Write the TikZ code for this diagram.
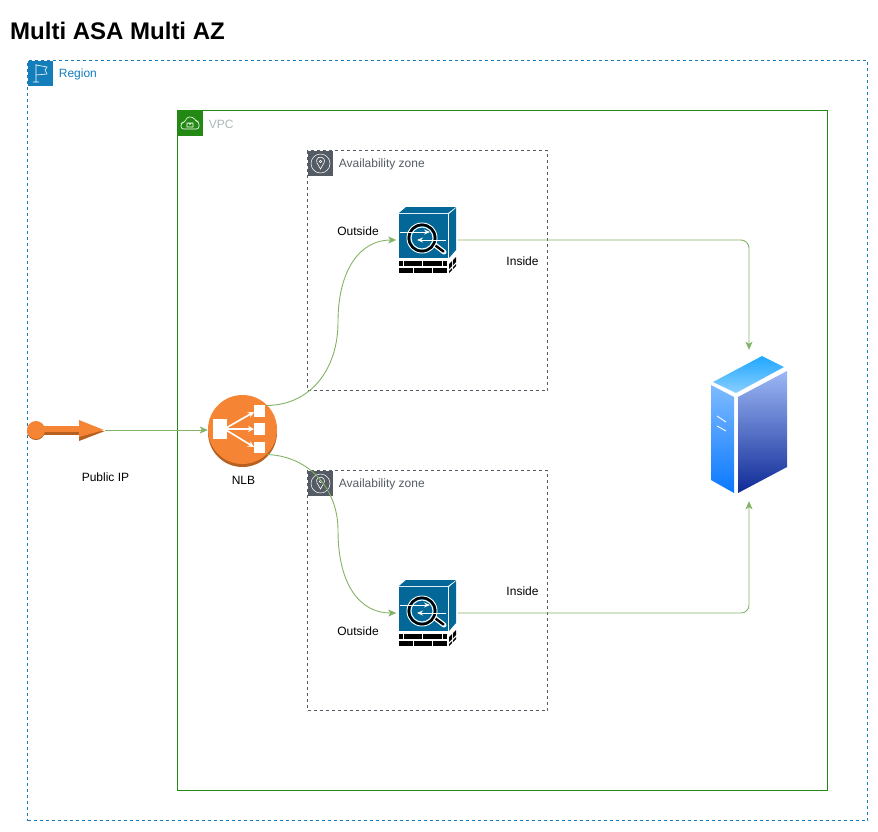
\documentclass[tikz,border=0pt]{standalone}
\usepackage{fontspec}
\setmainfont{Liberation Sans}
\usepackage{xcolor}
\usetikzlibrary{positioning,arrows.meta}

\definecolor{regionblue}{HTML}{147EBA}
\definecolor{vpcgreen}{HTML}{248814}
\definecolor{vpcgrey}{HTML}{AAB7B8}
\definecolor{azgrey}{HTML}{545B64}
\definecolor{linkgreen}{HTML}{82B366}
\definecolor{awsorange}{HTML}{F58534}
\definecolor{awsshadow}{HTML}{B7601F}
\definecolor{asablue}{HTML}{036897}

\tikzset{
  groupbox/.style={draw, minimum width=#1, inner sep=0pt},
  tile/.style={minimum size=25pt, inner sep=0pt, anchor=north west},
  grouplabel/.style={font=\fontsize{12}{14}\selectfont, inner sep=0pt, right=6pt of #1, yshift=-1.5pt},
  textlabel/.style={font=\fontsize{12}{14}\selectfont, inner sep=0pt},
  link/.style={linkgreen, -{Stealth[length=8pt,width=7pt,inset=2pt]}, line width=0.9pt},
  asabrick/.style={fill=black},
  nlbarrow/.style={white, line width=1.6pt, -{Stealth[length=6pt,width=6pt]}},
  asaarrow/.style={white, line width=0.9pt, -{Stealth[length=6pt,width=5pt]}},
  asaicon/.pic={
    % body
    \fill[asablue] (-28,-26) rectangle (21,18);
    \fill[asablue] (-28,-27) -- (-21,-33) -- (29,-33) -- (21,-27) -- cycle;
    \fill[asablue] (22,-26) -- (29,-32) -- (29,10) -- (22,18) -- cycle;
    % firewall
    \foreach \a/\b in {-28/-24,-23/-5,-4/15,16/20} \fill[asabrick] (\a,21) rectangle (\b,26);
    \foreach \a/\b in {-28/-14,-13/5,6/20} \fill[asabrick] (\a,28) rectangle (\b,33);
    \fill[asabrick] (22,24) -- (25,21) -- (25,26) -- (22,29) -- cycle;
    \fill[asabrick] (22,31) -- (25,28) -- (25,30) -- (22,33) -- cycle;
    \fill[asabrick] (26,20) -- (29,17) -- (29,22) -- (26,25) -- cycle;
    \fill[asabrick] (26,27) -- (29,24) -- (29,26) -- (26,29) -- cycle;
    % magnifier
    \draw[white, line width=5pt, line cap=round] (8,5) -- (17,12);
    \draw[black, line width=2.4pt, line cap=round] (8.5,5.5) -- (16.5,11.5);
    \draw[white, line width=1pt] (-5,-2) circle (15);
    \draw[black, line width=2.4pt] (-5,-2) circle (13.2);
    \draw[white, line width=1pt] (-5,-2) circle (11);
    \draw[asaarrow] (-27,-8) -- (3,-8);
    \draw[asaarrow] (19,0) -- (-10,0);
  }
}

\begin{document}
\begin{tikzpicture}[x=1pt, y=-1pt]
\useasboundingbox (0,0) rectangle (878,831);

\node[anchor=west, inner sep=0pt, font=\fontsize{24}{28}\selectfont\bfseries] (title) at (10,31) {Multi ASA Multi AZ};

% groups
\node[groupbox=840pt, minimum height=760pt, regionblue, dashed] (region) at (447.5,440.5) {};
\node[tile, fill=regionblue] (regiontile) at (region.north west) {};
\node[grouplabel=regiontile, regionblue] (regionlabel) {Region};
\draw[white, line width=0.6pt] (36,64) -- (36,82) (33,82) -- (39,82) (36,65) -- (47,67) -- (45,70) -- (47,74) -- (36,75);

\node[groupbox=650pt, minimum height=680pt, vpcgreen] (vpc) at (502.5,450.5) {};
\node[tile, fill=vpcgreen] (vpctile) at (vpc.north west) {};
\node[grouplabel=vpctile, vpcgrey] (vpclabel) {VPC};
\draw[white, line width=0.6pt, rounded corners=2.5pt] (184,129) -- (181,129) -- (181,123) -- (185,122) -- (187,117) -- (193,117) -- (196,121) -- (199,122) -- (199,129) -- (196,129) (184,129) -- (196,129);
\draw[white, line width=0.6pt] (187,123) rectangle (193,127) (188.5,123) arc (180:0:1.5);

\node[groupbox=240pt, minimum height=240pt, azgrey, dashed] (az1) at (427.5,270.5) {};
\node[tile, fill=azgrey] (az1tile) at (az1.north west) {};
\node[grouplabel=az1tile, azgrey] (az1label) {Availability zone};
\draw[white, line width=0.5pt] (320.5,163.5) circle (9.5);
\draw[white, line width=0.6pt] (320.5,169) -- (317,163) arc (150:390:4) -- cycle (320.5,161.5) circle (1.3);

\node[groupbox=240pt, minimum height=240pt, azgrey, dashed] (az2) at (427.5,590.5) {};
\node[tile, fill=azgrey] (az2tile) at (az2.north west) {};
\node[grouplabel=az2tile, azgrey] (az2label) {Availability zone};
\draw[white, line width=0.5pt] (320.5,483.5) circle (9.5);
\draw[white, line width=0.6pt] (320.5,489) -- (317,483) arc (150:390:4) -- cycle (320.5,481.5) circle (1.3);

% public ip
\node[minimum width=78pt, minimum height=22pt, inner sep=0pt] (pubip) at (65.5,430) {};
\fill[awsshadow] (36,431) circle (9);
\fill[awsshadow] (44,431) rectangle (79,435);
\fill[awsshadow] (79,441) -- (105,431) -- (79,431) -- cycle;
\fill[awsorange] (36,430) circle (9);
\fill[awsorange] (44,426) rectangle (79,432);
\fill[awsorange] (79,420) -- (104,430) -- (79,437) -- cycle;

% nlb
\node[circle, minimum size=69pt, inner sep=0pt] (nlb) at (242.5,430) {};
\fill[awsshadow] (242.5,432.5) circle (34.5);
\fill[awsorange] (242.5,429.5) circle (34.5);
\fill[white] (213,419) rectangle (227,439);
\fill[white] (254,405) rectangle (265,417);
\fill[white] (254,423) rectangle (265,435);
\fill[white] (254,442) rectangle (265,453);
\draw[nlbarrow] (226,428) -- (254,412);
\draw[nlbarrow] (226,429) -- (254,429);
\draw[nlbarrow] (226,430) -- (254,447);

% firewalls
\node[minimum width=61pt, minimum height=66pt, inner sep=0pt] (asa1) at (427,240) {};
\pic at (asa1) {asaicon};
\node[minimum width=61pt, minimum height=66pt, inner sep=0pt] (asa2) at (427,613) {};
\pic at (asa2) {asaicon};

% server
\definecolor{srvtopa}{HTML}{1FA8FF}
\definecolor{srvtopb}{HTML}{8ACEFF}
\definecolor{srvlefta}{HTML}{7EBBFF}
\definecolor{srvleftb}{HTML}{0A78FF}
\definecolor{srvrighta}{HTML}{9DB8F5}
\definecolor{srvrightb}{HTML}{0F2A96}
\node[minimum width=78pt, minimum height=151pt, inner sep=0pt] (server) at (749,425.5) {};
\shade[top color=srvtopa, bottom color=srvtopb] (762,356) -- (784,367) -- (736,393) -- (713,382) -- cycle;
\shade[top color=srvlefta, bottom color=srvleftb] (711,385) -- (734,397) -- (734,493) -- (711,480) -- cycle;
\shade[top color=srvrighta, bottom color=srvrightb] (738,397) -- (787,371) -- (787,467) -- (738,493) -- cycle;
\draw[white, line width=0.9pt] (717,416) -- (726,422) (717,426) -- (726,431);

% links
\draw[link] (pubip.east) -- (nlb.west);
\draw[link] (nlb.45) .. controls (310,405) and (338,370) .. (338,322) .. controls (338,270) and (360,240) .. (asa1.west);
\draw[link] (nlb.-45) .. controls (310,456) and (338,490) .. (338,530) .. controls (338,585) and (360,613) .. (asa2.west);
\draw[link, rounded corners=8pt] (asa1.east) -| (server.north);
\draw[link, rounded corners=8pt] (asa2.east) -| (server.south);

% labels
\node[textlabel] (pubiplabel) at (105.5,477) {Public IP};
\node[textlabel] (nlblabel) at (243.5,480) {NLB};
\node[textlabel] (outside1) at (358,231) {Outside};
\node[textlabel] (outside2) at (358,631) {Outside};
\node[textlabel] (inside1) at (522.5,261) {Inside};
\node[textlabel] (inside2) at (522.5,591) {Inside};
\end{tikzpicture}
\end{document}
